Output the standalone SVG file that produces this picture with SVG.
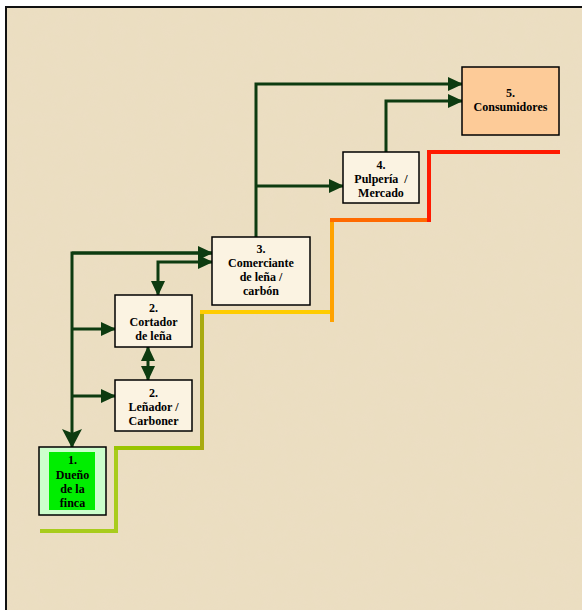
<svg xmlns="http://www.w3.org/2000/svg" width="582" height="610" viewBox="0 0 582 610">
  <defs>
    <filter id="paper" x="0" y="0" width="100%" height="100%">
      <feTurbulence type="fractalNoise" baseFrequency="0.08" numOctaves="3" seed="4" result="n"/>
      <feColorMatrix in="n" type="matrix" values="0 0 0 0 0.85  0 0 0 0 0.72  0 0 0 0 0.58  0 0 0 1.2 -0.35"/>
    </filter>
    <marker id="ah" viewBox="0 0 15 14" refX="14" refY="7" markerWidth="15" markerHeight="14" markerUnits="userSpaceOnUse" orient="auto-start-reverse">
      <path d="M0,0 L15,7 L0,14 Z" fill="#0d3b10"/>
    </marker>
    <marker id="ahb" viewBox="0 0 19 20" refX="18" refY="10" markerWidth="19" markerHeight="20" markerUnits="userSpaceOnUse" orient="auto">
      <path d="M0,0 L19,10 L0,20 L4,10 Z" fill="#0d3b10"/>
    </marker>
    <style>
      .bg { fill: #ebdec1; }
      .box { stroke: #000; stroke-width: 1.5; }
      .plain { fill: #fbf3e2; }
      .t { font-family: "Liberation Serif", "Times New Roman", serif; font-weight: bold; font-size: 12px; fill: #000; text-anchor: middle; }
      .c { fill: none; stroke: #0d3b10; stroke-width: 3; stroke-linejoin: miter; }
      .step { fill: none; stroke-width: 4; stroke-linecap: square; }
    </style>
  </defs>

  <rect width="582" height="610" fill="#ffffff"/>
  <rect x="6" y="7" width="576" height="603" class="bg"/>
  <rect x="6" y="7" width="576" height="603" fill="#000" filter="url(#paper)" opacity="0.35"/>
  <path d="M6,610 L6,7 L582,7" fill="none" stroke="#111" stroke-width="2"/>

  <g id="staircase">
    <path class="step" stroke="#a8cc1c" d="M42,531 L116,531 L116,448"/>
    <path class="step" stroke="#99c400" d="M116,448 L202,448"/>
    <path class="step" stroke="#a8aa10" d="M202,448 L202,312"/>
    <path class="step" stroke="#ffcc00" d="M202,312 L332,312"/>
    <path class="step" stroke="#ffa200" d="M332,320 L332,220"/>
    <path class="step" stroke="#ff6a00" d="M332,220 L429,220"/>
    <path class="step" stroke="#ff1a00" d="M429,220 L429,152 L558,152"/>
  </g>

  <g id="connectors">
    <path class="c" d="M256,237 L256,84 L462,84" marker-end="url(#ah)"/>
    <path class="c" d="M386,152 L386,101 L462,101" marker-end="url(#ah)"/>
    <path class="c" d="M256,186 L343,186" marker-end="url(#ah)"/>
    <path class="c" d="M212,253 L72,253 L72,447" marker-end="url(#ahb)"/>
    <path class="c" d="M72,253 L212,253" marker-end="url(#ah)"/>
    <path class="c" d="M212,262 L158,262 L158,295" marker-start="url(#ah)" marker-end="url(#ah)"/>
    <path class="c" d="M72,329 L115,329" marker-end="url(#ah)"/>
    <path class="c" d="M72,396 L115,396" marker-end="url(#ah)"/>
    <path class="c" d="M148,347 L148,380" marker-start="url(#ah)" marker-end="url(#ah)"/>
  </g>

  <g id="n5">
    <rect class="box" x="462" y="67" width="97" height="68" fill="#fdcb98"/>
    <text class="t" x="510.5" y="97">5.</text>
    <text class="t" x="510.5" y="111">Consumidores</text>
  </g>

  <g id="n4">
    <rect class="box plain" x="343" y="152" width="76" height="51"/>
    <text class="t" x="381" y="169">4.</text>
    <text class="t" x="381" y="183" xml:space="preserve">Pulpería  /</text>
    <text class="t" x="381" y="197">Mercado</text>
  </g>

  <g id="n3">
    <rect class="box plain" x="212" y="237" width="98" height="68"/>
    <text class="t" x="261" y="253">3.</text>
    <text class="t" x="261" y="267">Comerciante</text>
    <text class="t" x="261" y="281">de leña /</text>
    <text class="t" x="261" y="295">carbón</text>
  </g>

  <g id="n2a">
    <rect class="box plain" x="115" y="295" width="77" height="52"/>
    <text class="t" x="153.5" y="312">2.</text>
    <text class="t" x="153.5" y="326">Cortador</text>
    <text class="t" x="153.5" y="340">de leña</text>
  </g>

  <g id="n2b">
    <rect class="box plain" x="115" y="380" width="77" height="51"/>
    <text class="t" x="153.5" y="397">2.</text>
    <text class="t" x="153.5" y="411">Leñador /</text>
    <text class="t" x="153.5" y="425">Carboner</text>
  </g>

  <g id="n1">
    <rect class="box" x="39" y="447" width="67" height="68" fill="#ccffcc"/>
    <rect x="49" y="452" width="46" height="58" fill="#00ee00"/>
    <text class="t" x="72.5" y="464">1.</text>
    <text class="t" x="72.5" y="479">Dueño</text>
    <text class="t" x="72.5" y="493">de la</text>
    <text class="t" x="72.5" y="507">finca</text>
  </g>
</svg>
